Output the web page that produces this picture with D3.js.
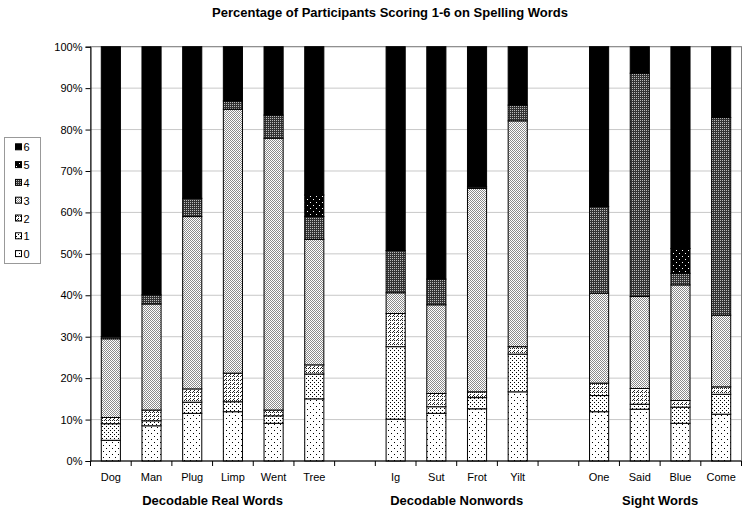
<!DOCTYPE html>
<html><head><meta charset="utf-8">
<script src="https://cdn.jsdelivr.net/npm/d3@7"></script>
<style>body{margin:0;background:#fff;} svg{display:block;font-family:"Liberation Sans",Arial,sans-serif;}</style>
</head><body>
<svg id="c" width="750" height="513"></svg>
<script>
const words = ["Dog","Man","Plug","Limp","Went","Tree","Ig","Sut","Frot","Yilt","One","Said","Blue","Come"];
const groupNames = ["Decodable Real Words","Decodable Nonwords","Sight Words"];
const groupSizes = [6,4,4];
const seriesNames = ["0","1","2","3","4","5","6"];
const s0 = [5, 8.5, 11.5, 11.9, 9.1, 15, 10.1, 11.5, 12.6, 16.7, 11.9, 12.5, 9.1, 11.3];
const s1 = [4, 1.2, 2.7, 2.4, 1.8, 6, 17.5, 1.6, 2.7, 9.1, 3.9, 1.2, 3.9, 4.8];
const s2 = [1.5, 2.6, 3.2, 6.9, 1.4, 2.2, 8, 3.2, 1.4, 1.8, 3.0, 3.8, 1.6, 1.8];
const s3 = [19, 25.6, 41.6, 63.7, 65.6, 30.3, 5, 21.4, 49.1, 54.5, 21.7, 22.2, 27.9, 17.3];
const s4 = [0.5, 2.2, 4.4, 2.0, 5.6, 5.5, 10.2, 6.2, 0.4, 3.8, 20.9, 53.9, 2.8, 47.7];
const s5 = [0, 0, 0, 0, 0, 5.2, 0, 0, 0, 0, 0, 0, 6.0, 0];
const s6 = [70, 59.9, 36.6, 13.1, 16.5, 35.8, 49.2, 56.1, 33.8, 14.1, 38.6, 6.4, 48.7, 17.1];
const yTicks = [0,10,20,30,40,50,60,70,80,90,100];
const title = "Percentage of Participants Scoring 1-6 on Spelling Words";

const series = [s0,s1,s2,s3,s4,s5,s6];
const rows = words.map((w,i)=>{const r={word:w}; seriesNames.forEach((k,j)=>r[k]=series[j][i]); return r;});

// slots incl. blank gaps between groups
const slots = []; let wi = 0;
groupSizes.forEach((n,g)=>{ for(let k=0;k<n;k++) slots.push(words[wi++]); if(g<groupSizes.length-1) slots.push("gap"+g); });

const svg = d3.select("#c");
const L=90.5, R=741.5, T=46.7, B=461;
const x = d3.scaleBand().domain(slots).range([L,R]).paddingInner(0.53).paddingOuter(0.265);
const y = d3.scaleLinear().domain([0,100]).range([B,T]);

// patterns
const defs = svg.append("defs");
function pat(id, size, bg, dots, dotColor){
  const p = defs.append("pattern").attr("id",id).attr("patternUnits","userSpaceOnUse").attr("width",size).attr("height",size);
  p.append("rect").attr("width",size).attr("height",size).attr("fill",bg);
  dots.forEach(d=>p.append("rect").attr("x",d[0]).attr("y",d[1]).attr("width",1).attr("height",1).attr("fill",dotColor));
}
pat("p0",6,"#fff",[[1,1],[4,4]],"#000");
pat("p1",4,"#fff",[[0,0],[2,2]],"#000");
pat("p2",4,"#fff",[[0,0],[2,2],[2,0],[1,3]],"#222");
pat("p3",2,"#fff",[[0,0],[1,1]],"#8a8a8a");
pat("p4",2,"#333",[[0,0]],"#bbb");
pat("p5",6,"#000",[[1,1],[4,4]],"#fff");
pat("p6",2,"#000",[],"#000");

// gridlines
svg.append("g").selectAll("line").data(yTicks.filter(t=>t>0)).join("line")
  .attr("x1",L).attr("x2",R).attr("y1",d=>y(d)).attr("y2",d=>y(d))
  .attr("stroke","#c8c8c8").attr("stroke-width",1);

// plot border
svg.append("rect").attr("x",L).attr("y",T).attr("width",R-L).attr("height",B-T)
  .attr("fill","none").attr("stroke","#808080").attr("stroke-width",1);

// title
svg.append("text").attr("x",390).attr("y",17).attr("text-anchor","middle")
  .attr("font-size","13px").attr("font-weight","bold").text(title);

// bars
const stack = d3.stack().keys(seriesNames).offset(d3.stackOffsetExpand);
const stacked = stack(rows);
const g = svg.append("g");
stacked.forEach((layer,j)=>{
  g.append("g").selectAll("rect").data(layer.filter(d=>d[1]-d[0]>0)).join("rect")
    .attr("x",d=>x(d.data.word)).attr("width",x.bandwidth())
    .attr("y",d=>y(d[1]*100)).attr("height",d=>y(d[0]*100)-y(d[1]*100))
    .attr("fill",`url(#p${j})`).attr("stroke","#000").attr("stroke-width",1);
});

// y axis
const ya = svg.append("g").attr("transform",`translate(${L},0)`)
  .call(d3.axisLeft(y).tickValues(yTicks).tickFormat(d=>d+"%").tickSize(5).tickPadding(3));
ya.select(".domain").attr("stroke","#000");
ya.selectAll("text").attr("font-size","11px").attr("font-family","Liberation Sans,Arial,sans-serif").attr("fill","#000");

// x axis baseline and ticks at slot boundaries
svg.append("line").attr("x1",L).attr("x2",R).attr("y1",B).attr("y2",B).attr("stroke","#000");
const bounds = slots.map(s=>x(s)-x.step()*x.paddingInner()/2).concat([R]);
svg.append("g").selectAll("line").data(bounds).join("line")
  .attr("x1",d=>d).attr("x2",d=>d).attr("y1",B).attr("y2",B+5).attr("stroke","#000");

// category labels
svg.append("g").selectAll("text").data(words).join("text")
  .attr("x",d=>x(d)+x.bandwidth()/2).attr("y",481).attr("text-anchor","middle")
  .attr("font-size","11px").text(d=>d);

// group labels
let start=0;
groupSizes.forEach((n,gi)=>{
  const a = words[start], b = words[start+n-1];
  const cx = (x(a)+x(b)+x.bandwidth())/2;
  svg.append("text").attr("x",cx).attr("y",505).attr("text-anchor","middle")
    .attr("font-size","13px").attr("font-weight","bold").text(groupNames[gi]);
  start+=n;
});

// legend
const lg = svg.append("g");
lg.append("rect").attr("x",4.5).attr("y",137.5).attr("width",36).attr("height",126)
  .attr("fill","#fff").attr("stroke","#999");
const order = seriesNames.slice().reverse();
order.forEach((k,i)=>{
  const cy = 147.3 + i*17.8;
  lg.append("rect").attr("x",15.5).attr("y",cy-3.5).attr("width",6).attr("height",6)
    .attr("fill",`url(#p${k})`).attr("stroke","#000").attr("stroke-width",1);
  lg.append("text").attr("x",23.5).attr("y",cy+4).attr("font-size","11px").text(k);
});
</script>
</body></html>
